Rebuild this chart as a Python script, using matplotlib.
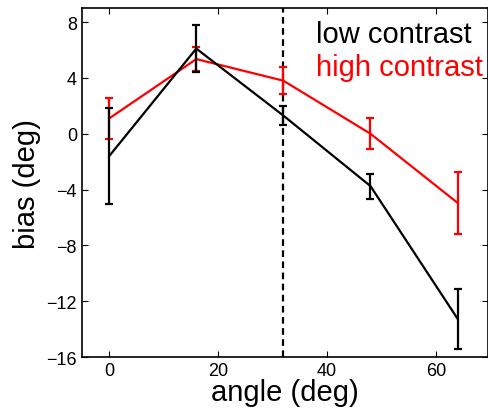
import numpy as np
import matplotlib
matplotlib.use("Agg")
import matplotlib.pyplot as plt

plt.rcParams["font.family"] = ["Liberation Sans", "DejaVu Sans"]

# Datos
angulos = [0, 16, 32, 48, 64]
bajo_contraste = [-1.6, 6.1, 1.3, -3.75, -13.25]
bajo_err = [3.45, 1.7, 0.68, 0.9, 2.15]
alto_contraste = [1.1, 5.35, 3.8, 0.0, -4.95]
alto_err = [1.45, 0.85, 0.95, 1.1, 2.2]
angulo_limite = 32

xticks = [0, 20, 40, 60]
yticks = [-16, -12, -8, -4, 0, 4, 8]

fig = plt.figure(figsize=(4.88, 4.14), dpi=100)
ax = fig.add_axes([0.168, 0.135, 0.831, 0.843])

# Linea vertical discontinua
ax.axvline(angulo_limite, color="black", linestyle=(0, (3, 2)), linewidth=1.6, zorder=1)

# Series con barras de error
ax.errorbar(angulos, alto_contraste, yerr=alto_err, color="red", linewidth=1.6,
            elinewidth=1.6, capsize=3, capthick=1.6, zorder=2)
ax.errorbar(angulos, bajo_contraste, yerr=bajo_err, color="black", linewidth=1.6,
            elinewidth=1.6, capsize=3, capthick=1.6, zorder=3)

ax.set_xlim(-5, 69.5)
ax.set_ylim(-16, 9)
ax.set_xticks(xticks)
ax.set_yticks(yticks)
ax.tick_params(direction="in", top=True, right=True, labelsize=13, length=4, width=0.8)
for s in ax.spines.values():
    s.set_linewidth(1.2)

ax.set_xlabel("angle (deg)", fontsize=21, labelpad=-1)
ax.set_ylabel("bias (deg)", fontsize=21, labelpad=4)

# Leyenda como texto
ax.text(0.578, 0.903, "low contrast", transform=ax.transAxes, fontsize=21,
        color="black", va="baseline", ha="left")
ax.text(0.578, 0.808, "high contrast", transform=ax.transAxes, fontsize=21,
        color="red", va="baseline", ha="left")

fig.savefig("out.png", dpi=100)
